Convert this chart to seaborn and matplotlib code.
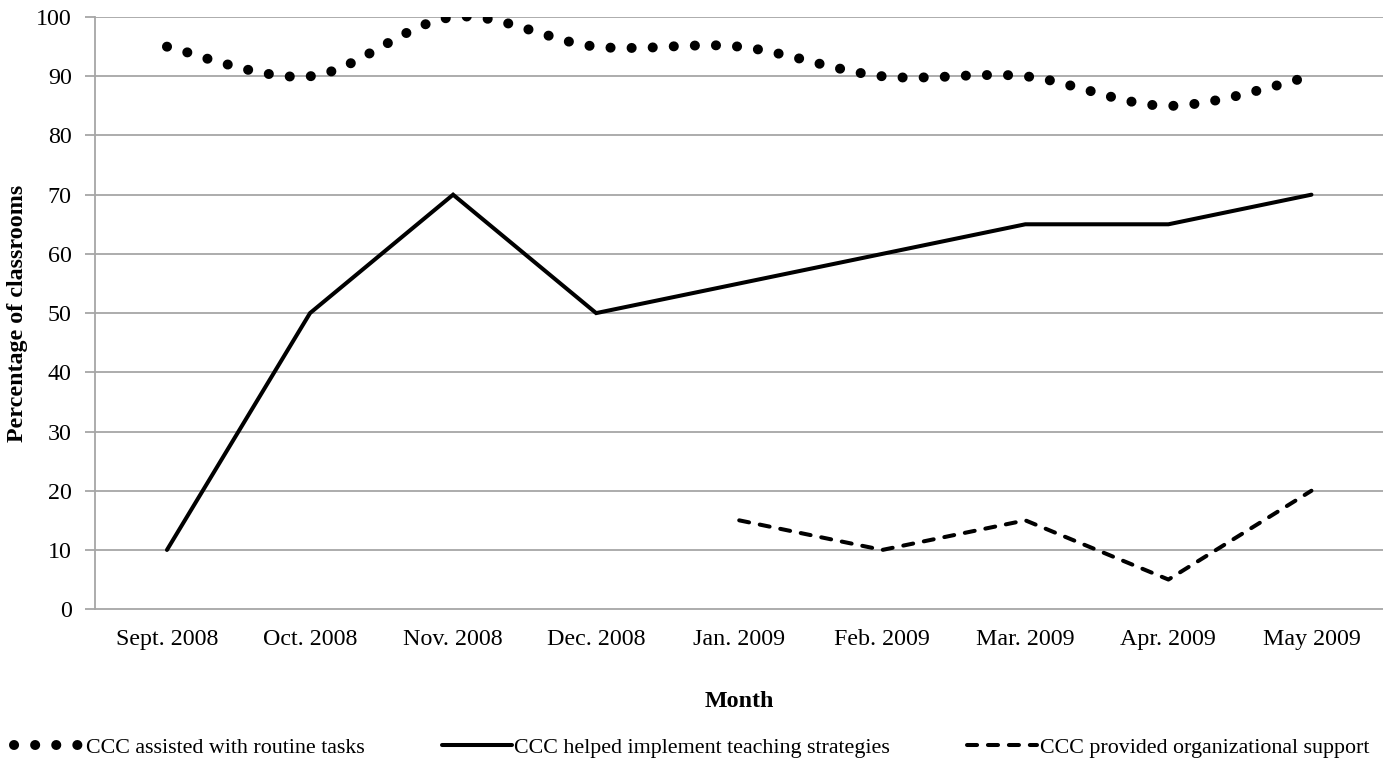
import numpy as np
import pandas as pd
import matplotlib
matplotlib.use("Agg")
import matplotlib.pyplot as plt
from matplotlib.path import Path
from matplotlib.patches import PathPatch
from matplotlib.lines import Line2D
import seaborn as sns

months = ["Sept. 2008", "Oct. 2008", "Nov. 2008", "Dec. 2008", "Jan. 2009",
          "Feb. 2009", "Mar. 2009", "Apr. 2009", "May 2009"]
routine_tasks = [95, 90, 100, 95, 95, 90, 90, 85, 90]
teaching_strategies = [10, 50, 70, 50, 55, 60, 65, 65, 70]
org_support = [np.nan, np.nan, np.nan, np.nan, 15, 10, 15, 5, 20]
y_ticks = [0, 10, 20, 30, 40, 50, 60, 70, 80, 90, 100]

labels = ["CCC assisted with routine tasks",
          "CCC helped implement teaching strategies",
          "CCC provided organizational support"]

sns.set_theme(style="white")
plt.rcParams["font.family"] = ["Liberation Serif", "DejaVu Serif"]
plt.rcParams["text.color"] = "black"
plt.rcParams["axes.labelcolor"] = "black"
plt.rcParams["xtick.color"] = "black"
plt.rcParams["ytick.color"] = "black"

FS = 17.3
LEG_FS = 15.8
GRID = "#a6a6a6"
DOT_LW = 7.2
DOT_STYLE = (0, (0.01, 2.1))
DASH_LW = 2.9
DASH_STYLE = (0, (2.5, 2.7))

fig, ax = plt.subplots(figsize=(13.83, 7.75), dpi=100)
fig.subplots_adjust(left=0.069, right=1.0, top=0.978, bottom=0.214)

df = pd.DataFrame({"month": months, "pos": np.arange(len(months)),
                   "teaching": teaching_strategies, "org": org_support})

for yv in y_ticks[1:]:
    ax.axhline(yv, color=GRID, lw=1.3, zorder=0)

sns.lineplot(data=df, x="pos", y="teaching", ax=ax, color="black", lw=2.9,
             solid_joinstyle="miter", zorder=3)
sns.lineplot(data=df.dropna(), x="pos", y="org", ax=ax, color="black", lw=DASH_LW,
             linestyle=DASH_STYLE, dash_capstyle="round", zorder=3)

# smoothed dotted curve (cubic Bezier through each month's value)
xs = np.arange(len(routine_tasks), dtype=float)
ys = np.asarray(routine_tasks, dtype=float)
pts = np.column_stack([xs, ys])
verts = [tuple(pts[0])]
codes = [Path.MOVETO]
n = len(pts)
for i in range(n - 1):
    p0 = pts[max(i - 1, 0)]
    p1 = pts[i]
    p2 = pts[i + 1]
    p3 = pts[min(i + 2, n - 1)]
    c1 = p1 + (p2 - p0) / 6.0
    c2 = p2 - (p3 - p1) / 6.0
    verts += [tuple(c1), tuple(c2), tuple(p2)]
    codes += [Path.CURVE4] * 3
curve = PathPatch(Path(verts, codes), facecolor="none", edgecolor="black",
                  lw=DOT_LW, linestyle=DOT_STYLE, capstyle="round",
                  transform=ax.transData, zorder=3)
ax.add_patch(curve)

ax.set_xlim(-0.5, len(months) - 0.5)
ax.set_ylim(0, 100)
ax.set_yticks(y_ticks)
ax.set_yticklabels([str(v) for v in y_ticks], fontsize=FS)
ax.set_xticks(np.arange(len(months)))
ax.set_xticklabels(months, fontsize=FS)
ax.set_xticks(np.arange(len(months) + 1) - 0.5, minor=True)
ax.tick_params(axis="x", which="major", length=0, pad=14)
ax.tick_params(axis="x", which="minor", length=7, width=1.3, color=GRID, direction="out")
ax.tick_params(axis="y", length=7, width=1.3, color=GRID, direction="out", pad=10,
               left=True, labelcolor="black")

for side in ["top", "right"]:
    ax.spines[side].set_visible(False)
for side in ["left", "bottom"]:
    ax.spines[side].set_color(GRID)
    ax.spines[side].set_linewidth(1.3)

ax.set_xlabel("Month", fontsize=FS, fontweight="bold", labelpad=30)
ax.set_ylabel("Percentage of classrooms", fontsize=FS, fontweight="bold", labelpad=6)

handles = [
    Line2D([], [], color="black", lw=DOT_LW, linestyle=DOT_STYLE, dash_capstyle="round"),
    Line2D([], [], color="black", lw=2.9),
    Line2D([], [], color="black", lw=DASH_LW, linestyle=DASH_STYLE, dash_capstyle="round"),
]
leg = fig.legend(handles, labels, loc="lower center", bbox_to_anchor=(0.5, -0.003),
                 ncol=3, frameon=False, fontsize=LEG_FS, handlelength=3.2,
                 handletextpad=0.1, columnspacing=3.5)

fig.savefig("out.png", dpi=100)
